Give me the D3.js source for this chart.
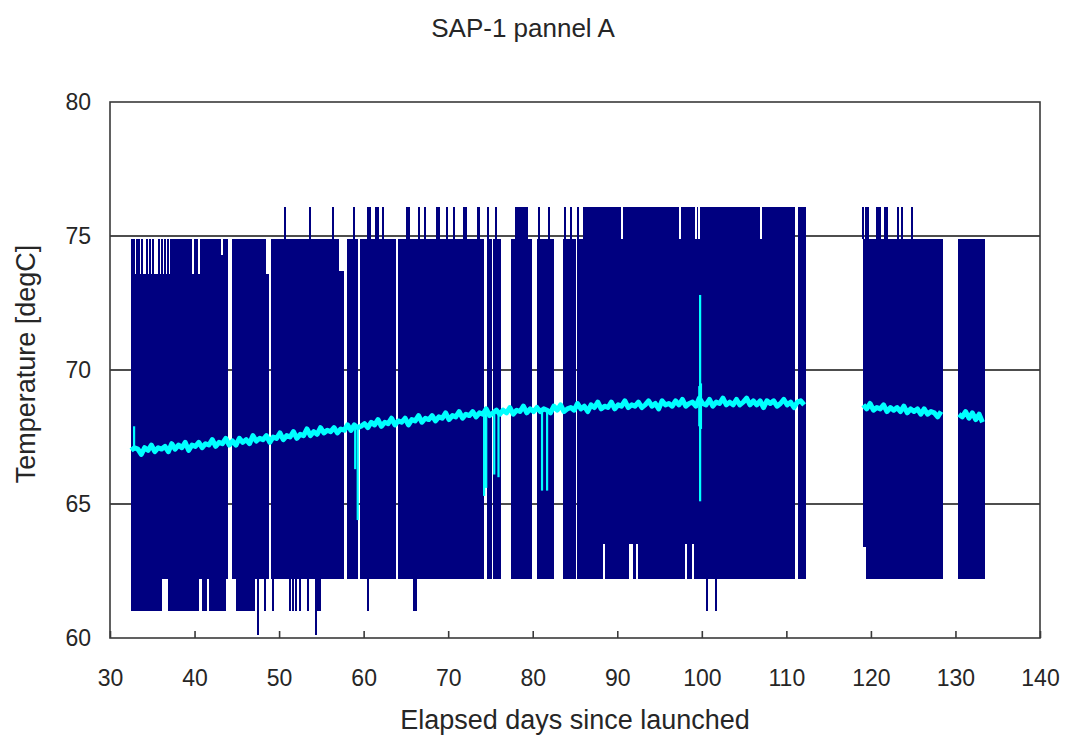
<!DOCTYPE html>
<html>
<head>
<meta charset="utf-8">
<script src="https://cdn.jsdelivr.net/npm/d3@7"></script>
<style>
  body { margin: 0; background: #fff; }
  text { font-family: "Liberation Sans", Arial, sans-serif; fill: #262626; }
</style>
</head>
<body>
<svg id="chart" width="1069" height="737"></svg>
<script>
// Axis ticks
const xTickValues = [30, 40, 50, 60, 70, 80, 90, 100, 110, 120, 130, 140];
const yTickValues = [60, 65, 70, 75, 80];
const gridValues = [65, 70, 75];

// Raw telemetry (navy): dense switching signal, kept as its envelope per data run
// [startDay, endDay, low degC, high degC]
const rawRuns = [
  [32.48, 37.10, 62.2, 73.6],
  [37.10, 43.84, 62.2, 74.9],
  [44.43, 48.45, 62.2, 74.9],
  [48.45, 48.69, 62.2, 73.6],
  [49.04, 56.97, 62.2, 74.9],
  [56.97, 57.61, 62.2, 73.7],
  [58.03, 59.33, 62.2, 74.9],
  [59.57, 63.71, 62.2, 74.9],
  [64.07, 74.12, 62.2, 74.9],
  [74.59, 75.18, 62.2, 74.9],
  [75.30, 76.13, 62.2, 74.9],
  [77.43, 79.91, 62.2, 74.9],
  [80.51, 81.22, 62.2, 74.9],
  [81.33, 82.40, 62.2, 74.9],
  [83.58, 85.00, 62.2, 74.9],
  [85.24, 111.02, 62.2, 74.9],
  [111.38, 112.21, 62.2, 76.1],
  [119.07, 119.42, 63.4, 74.9],
  [119.42, 128.41, 62.2, 74.9],
  [130.30, 133.38, 62.2, 74.9]
];

// Stretches where the low excursions reach 61.0 degC [startDay, endDay, low]
const rawLowRuns = [
  [32.48, 36.15, 61.0],
  [36.86, 40.53, 61.0],
  [40.88, 41.47, 61.0],
  [41.71, 43.72, 61.0],
  [44.90, 47.15, 61.0]
];

// Stretches where the high excursions reach 76.1 degC [startDay, endDay, high]
const rawHighRuns = [
  [68.56, 69.03, 76.1],
  [71.75, 72.23, 76.1],
  [73.41, 73.76, 76.1],
  [77.90, 79.44, 76.1],
  [85.95, 111.02, 76.1]
];

// Isolated excursions [day, from, to]
const rawSpikes = [
  [32.60, 73.6, 74.9], [32.84, 73.6, 74.9], [33.19, 73.6, 74.9], [33.43, 73.6, 74.9],
  [33.78, 73.6, 74.9], [34.38, 73.6, 74.9], [34.73, 73.6, 74.9], [35.09, 73.6, 74.9],
  [35.80, 73.6, 74.9], [36.15, 73.6, 74.9], [36.50, 73.6, 74.9], [36.86, 73.6, 74.9],
  [50.70, 74.9, 76.1], [53.66, 74.9, 76.1], [56.38, 74.9, 76.1], [58.86, 74.9, 76.1],
  [60.52, 74.9, 76.1], [60.75, 74.9, 76.1], [61.46, 74.9, 76.1], [61.70, 74.9, 76.1],
  [62.29, 74.9, 76.1], [65.13, 74.9, 76.1], [65.37, 74.9, 76.1], [66.55, 74.9, 76.1],
  [67.26, 74.9, 76.1], [69.86, 74.9, 76.1], [70.69, 74.9, 76.1], [74.71, 74.9, 76.1],
  [75.66, 74.9, 76.1], [80.74, 74.9, 76.1], [81.92, 74.9, 76.1], [83.82, 74.9, 76.1],
  [84.53, 74.9, 76.1], [85.36, 74.9, 76.1],
  [119.07, 74.9, 76.1], [119.42, 74.9, 76.1], [119.66, 74.9, 76.1], [120.72, 74.9, 76.1],
  [120.84, 74.9, 76.1], [121.08, 74.9, 76.1], [121.67, 74.9, 76.1], [121.90, 74.9, 76.1],
  [123.20, 74.9, 76.1], [123.68, 74.9, 76.1], [124.86, 74.9, 76.1],
  [48.33, 62.2, 61.0], [49.28, 62.2, 61.0], [51.29, 62.2, 61.0], [51.65, 62.2, 61.0],
  [52.00, 62.2, 61.0], [52.47, 62.2, 61.0], [53.42, 62.2, 61.0], [54.60, 62.2, 61.0],
  [54.84, 62.2, 61.0], [60.52, 62.2, 61.0], [65.96, 62.2, 61.0], [66.19, 62.2, 61.0],
  [100.61, 62.2, 61.0], [101.66, 62.2, 61.0],
  [47.50, 62.2, 60.1], [54.37, 62.2, 60.1]
];

// Short dropouts inside a run [day, from, to]
const rawDropouts = [
  [39.82, 73.6, 74.9], [40.53, 73.6, 74.9], [43.25, 74.3, 74.9],
  [90.56, 74.9, 76.1], [97.42, 74.9, 76.1], [99.31, 74.9, 76.1], [99.67, 74.9, 76.1], [107.00, 74.9, 76.1],
  [88.43, 62.2, 63.5], [91.51, 62.2, 63.5], [91.74, 62.2, 63.5], [92.33, 62.2, 63.5],
  [98.13, 62.2, 63.5], [98.96, 62.2, 63.5]
];

// Averaged temperature (cyan), sampled every 0.4 day within each pass
const avgStep = 0.4;
const avgStart1 = 32.5;
const avgValues1 = [
  67.00, 67.10, 67.05, 66.85, 67.10, 67.00, 67.20, 66.95, 67.10, 67.05,
  67.15, 66.95, 67.25, 67.05, 67.20, 67.10, 67.30, 67.00, 67.20, 67.15,
  67.30, 67.10, 67.25, 67.20, 67.40, 67.15, 67.30, 67.25, 67.45, 67.20,
  67.35, 67.20, 67.45, 67.30, 67.40, 67.25, 67.55, 67.35, 67.45, 67.40,
  67.55, 67.30, 67.50, 67.45, 67.65, 67.40, 67.55, 67.50, 67.70, 67.45,
  67.60, 67.55, 67.80, 67.55, 67.70, 67.60, 67.85, 67.65, 67.75, 67.70,
  67.85, 67.65, 67.80, 67.75, 67.95, 67.75, 67.95, 67.85, 67.90, 68.00,
  67.85, 68.05, 67.95, 68.15, 67.90, 68.05, 68.00, 68.20, 67.95, 68.10,
  68.05, 68.20, 67.95, 68.15, 68.10, 68.30, 68.05, 68.20, 68.15, 68.30,
  68.10, 68.25, 68.20, 68.40, 68.15, 68.30, 68.25, 68.45, 68.20, 68.35,
  68.30, 68.45, 68.25, 68.40, 68.35, 68.55, 68.30, 68.40, 68.50, 68.35,
  68.50, 68.40, 68.60, 68.35, 68.50, 68.45, 68.65, 68.40, 68.55, 68.45,
  68.60, 68.45, 68.55, 68.50, 68.40, 68.65, 68.50, 68.70, 68.45, 68.55,
  68.60, 68.50, 68.75, 68.55, 68.65, 68.45, 68.70, 68.60, 68.80, 68.55,
  68.65, 68.60, 68.80, 68.55, 68.70, 68.65, 68.85, 68.60, 68.70, 68.65,
  68.80, 68.60, 68.70, 68.85, 68.65, 68.75, 68.55, 68.85, 68.70, 68.75,
  68.65, 68.85, 68.70, 68.90, 68.65, 68.75, 68.80, 68.65, 68.95, 68.75,
  68.70, 68.90, 68.65, 68.80, 68.75, 68.95, 68.70, 68.80, 68.70, 68.90,
  68.70, 68.80, 68.95, 68.70, 68.85, 68.70, 68.85, 68.60, 68.85, 68.75,
  68.85, 68.65, 68.75, 68.90, 68.70, 68.80, 68.60, 68.80, 68.85, 68.70
];
const avgStart2 = 119.1;
const avgValues2 = [
  68.70, 68.55, 68.75, 68.50, 68.60, 68.55, 68.70, 68.45, 68.60, 68.50,
  68.60, 68.45, 68.65, 68.40, 68.55, 68.45, 68.55, 68.35, 68.55, 68.35,
  68.45, 68.40, 68.25, 68.45
];
const avgStart3 = 130.4;
const avgValues3 = [68.35, 68.25, 68.45, 68.20, 68.40, 68.15, 68.35, 68.05];

// Transients in the averaged temperature [day, low, high]
const avgSpikes = [
  [32.85, 67.0, 67.9],
  [59.00, 66.3, 67.9],
  [59.30, 64.4, 67.9],
  [74.25, 65.3, 68.4],
  [74.50, 65.6, 68.4],
  [75.45, 66.1, 68.4],
  [75.95, 66.0, 68.4],
  [81.10, 65.5, 68.5],
  [81.70, 65.5, 68.5],
  [99.80, 65.1, 72.8],
  [99.90, 67.8, 69.5],
  [99.70, 67.9, 69.4]
];

const margin = { left: 110, right: 1040, top: 102, bottom: 638 };
const svg = d3.select("#chart");

const x = d3.scaleLinear().domain([30, 140]).range([margin.left, margin.right]);
const y = d3.scaleLinear().domain([60, 80]).range([margin.bottom, margin.top]);

const NAVY = "#000080";
const CYAN = "#00ffff";

// Horizontal gridlines (behind the data)
svg.append("g").selectAll("line").data(gridValues).join("line")
  .attr("x1", x(30)).attr("x2", x(140))
  .attr("y1", d => y(d)).attr("y2", d => y(d))
  .attr("stroke", "#4d4d4d").attr("stroke-width", 2);

// Raw telemetry envelope
const raw = svg.append("g").attr("shape-rendering", "crispEdges");
raw.selectAll("rect.run").data(rawRuns).join("rect").attr("class", "run")
  .attr("x", d => x(d[0])).attr("width", d => x(d[1]) - x(d[0]) + 0.5)
  .attr("y", d => y(d[3])).attr("height", d => y(d[2]) - y(d[3]))
  .attr("fill", NAVY);
raw.selectAll("rect.low").data(rawLowRuns).join("rect").attr("class", "low")
  .attr("x", d => x(d[0])).attr("width", d => x(d[1]) - x(d[0]))
  .attr("y", y(62.2) - 1).attr("height", d => y(d[2]) - y(62.2) + 1)
  .attr("fill", NAVY);
raw.selectAll("rect.high").data(rawHighRuns).join("rect").attr("class", "high")
  .attr("x", d => x(d[0])).attr("width", d => x(d[1]) - x(d[0]))
  .attr("y", d => y(d[2])).attr("height", d => y(74.9) - y(d[2]) + 1)
  .attr("fill", NAVY);
raw.selectAll("line.spike").data(rawSpikes).join("line").attr("class", "spike")
  .attr("x1", d => x(d[0])).attr("x2", d => x(d[0]))
  .attr("y1", d => y(d[1])).attr("y2", d => y(d[2]))
  .attr("stroke", NAVY).attr("stroke-width", 1.6);
raw.selectAll("line.drop").data(rawDropouts).join("line").attr("class", "drop")
  .attr("x1", d => x(d[0])).attr("x2", d => x(d[0]))
  .attr("y1", d => y(d[1])).attr("y2", d => y(d[2]))
  .attr("stroke", "#ffffff").attr("stroke-width", 1.6);

// Averaged temperature
const line = d3.line().x(d => x(d[0])).y(d => y(d[1]));
const passes = [
  avgValues1.map((v, i) => [avgStart1 + i * avgStep, v]),
  avgValues2.map((v, i) => [avgStart2 + i * avgStep, v]),
  avgValues3.map((v, i) => [avgStart3 + i * avgStep, v])
];
const avg = svg.append("g");
avg.selectAll("path").data(passes).join("path")
  .attr("d", line).attr("fill", "none")
  .attr("stroke", CYAN).attr("stroke-width", 5).attr("stroke-linejoin", "round");
avg.selectAll("line").data(avgSpikes).join("line")
  .attr("x1", d => x(d[0])).attr("x2", d => x(d[0]))
  .attr("y1", d => y(d[1])).attr("y2", d => y(d[2]))
  .attr("stroke", CYAN).attr("stroke-width", 2.2);

// Plot frame
svg.append("rect")
  .attr("x", margin.left).attr("y", margin.top)
  .attr("width", margin.right - margin.left).attr("height", margin.bottom - margin.top)
  .attr("fill", "none").attr("stroke", "#3a3a3a").attr("stroke-width", 1.6);

// Axes
const xAxis = d3.axisBottom(x).tickValues(xTickValues).tickSize(-7).tickPadding(32).tickFormat(d3.format("d"));
const gx = svg.append("g").attr("transform", `translate(0,${margin.bottom})`).call(xAxis);
gx.select(".domain").remove();
gx.selectAll(".tick line").attr("stroke", "#3a3a3a").attr("stroke-width", 1.6);
gx.selectAll(".tick text").attr("font-size", 23).attr("fill", "#262626")
  .attr("font-family", "Liberation Sans, Arial, sans-serif");

const yAxis = d3.axisLeft(y).tickValues(yTickValues).tickSize(0).tickPadding(19).tickFormat(d3.format("d"));
const gy = svg.append("g").attr("transform", `translate(${margin.left},0)`).call(yAxis);
gy.select(".domain").remove();
gy.selectAll(".tick text").attr("font-size", 23).attr("fill", "#262626")
  .attr("font-family", "Liberation Sans, Arial, sans-serif");

// Titles
svg.append("text").attr("x", 523).attr("y", 37).attr("text-anchor", "middle")
  .attr("font-size", 26).text("SAP-1 pannel A");
svg.append("text").attr("x", 575).attr("y", 729).attr("text-anchor", "middle")
  .attr("font-size", 27).text("Elapsed days since launched");
svg.append("text").attr("transform", "translate(35,364) rotate(-90)").attr("text-anchor", "middle")
  .attr("font-size", 27).text("Temperature [degC]");
</script>
</body>
</html>
